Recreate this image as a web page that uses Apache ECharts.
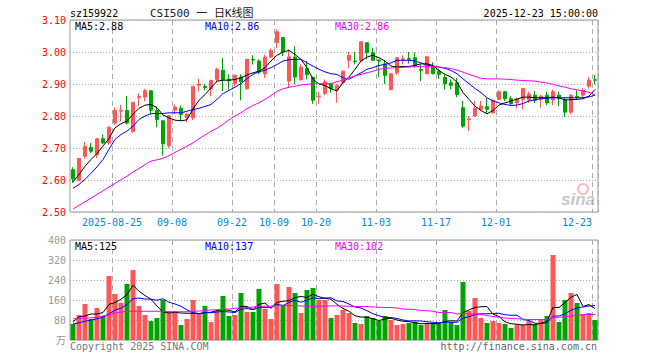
<!DOCTYPE html>
<html><head><meta charset="utf-8">
<script src="https://cdn.jsdelivr.net/npm/echarts@6/dist/echarts.min.js"></script>
<style>html,body{margin:0;padding:0;background:#fff}#c{width:660px;height:360px}</style>
</head><body><div id="c"></div>
<script>
// ---------- data ----------
const symbol = 'sz159922';
const chartTitle = 'CSI500 一 日K线图';
const dates = ['2025-08-14','2025-08-15','2025-08-18','2025-08-19','2025-08-20','2025-08-21','2025-08-22',
'2025-08-25','2025-08-26','2025-08-27','2025-08-28','2025-08-29','2025-09-01','2025-09-02','2025-09-03','2025-09-04','2025-09-05',
'2025-09-08','2025-09-09','2025-09-10','2025-09-11','2025-09-12','2025-09-15','2025-09-16','2025-09-17','2025-09-18','2025-09-19',
'2025-09-22','2025-09-23','2025-09-24','2025-09-25','2025-09-26','2025-09-29','2025-09-30','2025-10-09','2025-10-10',
'2025-10-13','2025-10-14','2025-10-15','2025-10-16','2025-10-17','2025-10-20','2025-10-21','2025-10-22','2025-10-23','2025-10-24',
'2025-10-27','2025-10-28','2025-10-29','2025-10-30','2025-10-31','2025-11-03','2025-11-04','2025-11-05','2025-11-06','2025-11-07',
'2025-11-10','2025-11-11','2025-11-12','2025-11-13','2025-11-14','2025-11-17','2025-11-18','2025-11-19','2025-11-20','2025-11-21',
'2025-11-24','2025-11-25','2025-11-26','2025-11-27','2025-11-28','2025-12-01','2025-12-02','2025-12-03','2025-12-04','2025-12-05',
'2025-12-08','2025-12-09','2025-12-10','2025-12-11','2025-12-12','2025-12-15','2025-12-16','2025-12-17','2025-12-18','2025-12-19',
'2025-12-22','2025-12-23'];
const tickDates = ['2025-08-25','2025-09-08','2025-09-22','2025-10-09','2025-10-20','2025-11-03','2025-11-17','2025-12-01','2025-12-23'];
const lastTime = '15:00:00';

const opens = [2.632,2.599,2.674,2.702,2.679,2.729,2.716,2.778,2.815,2.817,
2.752,2.857,2.859,2.879,2.817,2.785,2.707,2.818,2.824,2.795,
2.794,2.896,2.892,2.886,2.914,2.943,2.915,2.901,2.922,2.885,
2.977,2.972,2.932,2.984,3.029,3.045,2.909,2.984,2.914,2.948,
2.921,2.860,2.870,2.901,2.883,2.904,2.974,2.972,2.972,3.029,
2.998,2.975,2.963,2.883,2.935,2.976,2.980,2.982,2.945,2.932,
2.956,2.940,2.921,2.904,2.904,2.826,2.789,2.800,2.821,2.829,
2.810,2.852,2.876,2.854,2.841,2.852,2.850,2.865,2.852,2.865,
2.850,2.865,2.852,2.812,2.862,2.865,2.893,2.913];
const closes = [2.603,2.667,2.705,2.690,2.729,2.716,2.765,2.817,2.818,2.778,
2.843,2.861,2.879,2.818,2.789,2.713,2.801,2.828,2.805,2.805,
2.893,2.900,2.889,2.911,2.946,2.914,2.910,2.927,2.907,2.977,
2.975,2.937,2.984,3.005,3.063,3.000,2.985,2.922,2.953,2.930,
2.849,2.862,2.907,2.886,2.895,2.940,2.989,2.970,3.032,2.998,
2.974,2.972,2.927,2.932,2.982,2.979,2.977,2.956,2.943,2.985,
2.932,2.930,2.901,2.896,2.867,2.768,2.791,2.824,2.831,2.821,
2.849,2.876,2.854,2.839,2.852,2.886,2.869,2.849,2.862,2.841,
2.876,2.855,2.812,2.865,2.858,2.880,2.912,2.912];
const lows = [2.591,2.596,2.666,2.684,2.669,2.712,2.710,2.773,2.783,2.773,
2.747,2.830,2.846,2.804,2.765,2.676,2.700,2.805,2.786,2.781,
2.787,2.876,2.880,2.862,2.904,2.878,2.883,2.893,2.849,2.883,
2.961,2.930,2.919,2.982,3.013,2.987,2.888,2.899,2.909,2.914,
2.838,2.838,2.865,2.873,2.841,2.899,2.949,2.961,2.968,2.977,
2.972,2.921,2.900,2.880,2.928,2.961,2.964,2.951,2.909,2.930,
2.930,2.916,2.883,2.883,2.859,2.763,2.753,2.797,2.815,2.810,
2.807,2.849,2.847,2.834,2.823,2.820,2.841,2.841,2.826,2.834,
2.834,2.831,2.797,2.805,2.852,2.859,2.886,2.899];
const highs = [2.640,2.668,2.719,2.716,2.730,2.742,2.768,2.827,2.835,2.863,
2.843,2.870,2.885,2.879,2.830,2.785,2.801,2.836,2.833,2.810,
2.893,2.916,2.900,2.914,2.951,2.982,2.930,2.930,2.930,2.977,
2.990,2.977,2.992,3.011,3.071,3.045,3.008,3.018,2.961,2.972,
2.921,2.876,2.914,2.904,2.900,2.942,3.000,3.000,3.032,3.030,
3.013,2.977,2.974,2.935,2.982,2.990,3.000,2.998,2.961,2.987,
2.968,2.948,2.930,2.914,2.919,2.847,2.800,2.847,2.847,2.857,
2.852,2.880,2.876,2.862,2.857,2.886,2.876,2.878,2.867,2.876,
2.883,2.876,2.857,2.869,2.880,2.888,2.922,2.928];

const ma5 = [2.594,2.617,2.643,2.664,2.683,2.706,2.730,2.763,2.776,2.784,
2.805,2.824,2.834,2.836,2.826,2.803,2.794,2.787,2.785,2.788,
2.822,2.849,2.867,2.888,2.909,2.912,2.912,2.914,2.919,2.928,
2.935,2.940,2.951,2.972,2.990,3.000,3.005,2.992,2.977,2.951,
2.915,2.900,2.895,2.885,2.878,2.905,2.922,2.946,2.972,2.984,
2.990,2.982,2.972,2.956,2.953,2.955,2.955,2.958,2.963,2.963,
2.958,2.942,2.930,2.922,2.906,2.873,2.852,2.831,2.817,2.807,
2.817,2.834,2.841,2.847,2.853,2.859,2.859,2.857,2.857,2.857,
2.859,2.857,2.850,2.851,2.852,2.854,2.862,2.883];
const ma10 = [2.574,2.586,2.602,2.621,2.641,2.664,2.696,2.727,2.742,2.753,
2.768,2.789,2.800,2.807,2.808,2.808,2.810,2.810,2.810,2.815,
2.820,2.824,2.830,2.836,2.852,2.870,2.880,2.890,2.901,2.917,
2.930,2.938,2.943,2.951,2.961,2.972,2.976,2.977,2.977,2.966,
2.956,2.946,2.938,2.932,2.930,2.919,2.915,2.925,2.935,2.946,
2.951,2.958,2.961,2.966,2.974,2.974,2.974,2.972,2.966,2.959,
2.956,2.953,2.949,2.942,2.932,2.916,2.901,2.886,2.873,2.857,
2.847,2.841,2.836,2.833,2.834,2.839,2.847,2.850,2.854,2.856,
2.857,2.857,2.857,2.857,2.857,2.857,2.860,2.865];
const ma30 = [2.509,2.521,2.532,2.543,2.555,2.566,2.578,2.589,2.601,2.612,
2.625,2.636,2.648,2.659,2.663,2.668,2.676,2.686,2.696,2.706,
2.716,2.729,2.741,2.752,2.762,2.774,2.788,2.800,2.810,2.823,
2.833,2.841,2.852,2.864,2.877,2.885,2.890,2.893,2.897,2.899,
2.901,2.901,2.901,2.901,2.907,2.913,2.920,2.925,2.930,2.935,
2.940,2.946,2.949,2.950,2.951,2.952,2.953,2.954,2.955,2.956,
2.955,2.953,2.951,2.948,2.943,2.937,2.930,2.924,2.918,2.916,
2.916,2.916,2.915,2.914,2.912,2.911,2.910,2.909,2.906,2.903,
2.899,2.894,2.890,2.885,2.882,2.878,2.874,2.867];

const volumes = [64,100,144,84,128,96,256,184,149,224,
280,136,100,76,88,160,115,115,60,84,
160,104,136,72,116,176,96,100,188,112,
112,204,124,84,224,140,212,188,108,200,
208,160,160,88,100,120,108,68,64,96,
88,76,96,80,60,64,68,73,60,64,
64,64,120,72,60,232,116,168,88,68,
76,68,64,48,60,60,76,60,80,96,
340,72,160,188,148,104,108,80];
const volMa5 = [73,93,96,104,104,110,142,150,163,182,
219,195,178,163,136,112,108,111,108,107,
107,105,109,111,118,121,119,112,135,134,
122,143,148,127,150,155,157,170,174,170,
183,173,167,163,143,126,115,97,92,91,
85,78,84,87,80,75,74,69,65,66,
66,65,74,77,76,110,120,130,133,134,
103,94,73,65,63,60,62,61,67,74,
130,130,150,171,182,134,142,125.6];
const volMa10 = [64,69,75,80,85,91,104,120,127,143,
165,168,164,163,159,165,151,144,135,121,
109,106,110,109,112,114,112,110,123,126,
121,131,130,131,142,138,150,159,151,160,
169,165,168,169,156,154,144,132,128,117,
105,97,90,90,86,80,76,77,76,73,
71,69,72,71,71,88,93,102,105,105,
106,107,101,99,99,82,78,67,66,69,
95,96,105,119,128,132,136,137.6];
const volMa30 = [85,85,87,89,91,96,101,107,112,115,
115,115,115,115,115,115,113,113,113,113,
115,116,117,120,121,123,124,127,128,130,
132,135,135,135,138,139,138,138,136,136,
133,134,136,136,137,136,135,134,134,134,
132,131,130,130,128,124,123,122,118,117,
115,110,110,110,104,107,104,104,103,98,
94,91,88,86,85,83,82,82,82,82,
91,91,93,96,99,101,102,102.1];

const priceAxis = {min: 2.5, max: 3.1, step: 0.1};
const volAxis = {min: 0, max: 400, step: 80, unit: '万'};

// ---------- chart ----------
const MONO = "'DejaVu Sans Mono', 'Liberation Mono', 'Noto Sans CJK SC', monospace";
const RED = '#ff5757', GREEN = '#00a300';
const tickIdx = new Set(tickDates.map(d => dates.indexOf(d)));
const lastIdx = dates.length - 1;
const f2 = v => (Math.floor(v * 100 + 1e-6) / 100).toFixed(2);
const f0 = v => String(Math.floor(v + 1e-6));
const last = a => a[a.length - 1];

const chart = echarts.init(document.getElementById('c'), null, {renderer: 'svg', width: 660, height: 360});

const vSplit = {show: true, interval: (i) => tickIdx.has(i), lineStyle: {color: '#aaa', type: [5, 4], width: 1}};
const hSplit = {show: true, lineStyle: {color: '#aaa', type: [1, 2], width: 1}};

function txt(x, y, text, color, align) {
  return {type: 'text', x: x, y: y, z: 100, style: {text: text, fill: color, font: '10px ' + MONO,
    textAlign: align || 'left', textVerticalAlign: 'middle'}};
}

const option = {
  animation: false,
  backgroundColor: '#fff',
  grid: [
    {left: 70, top: 20, width: 528, height: 192, show: true, borderColor: '#999', borderWidth: 1, backgroundColor: 'transparent'},
    {left: 70, top: 240, width: 528, height: 100, show: true, borderColor: '#999', borderWidth: 1, backgroundColor: 'transparent'}
  ],
  xAxis: [
    {type: 'category', gridIndex: 0, data: dates, boundaryGap: true,
     axisLine: {show: false}, axisTick: {show: false},
     axisLabel: {show: true, interval: (i) => tickIdx.has(i), margin: 5, color: '#0a84d6',
       fontFamily: MONO, fontSize: 10,
       formatter: (v) => {
         const t = v === tickDates[0] ? v : v.slice(5);
         return dates.indexOf(v) === lastIdx ? '{e|' + t + '}' : '{n|' + t + '}';
       },
       rich: {n: {padding: [0, 6, 0, 0], color: '#0a84d6', fontFamily: MONO, fontSize: 10},
              e: {padding: [0, 36, 0, 0], color: '#0a84d6', fontFamily: MONO, fontSize: 10}}},
     splitLine: vSplit},
    {type: 'category', gridIndex: 1, data: dates, boundaryGap: true,
     axisLine: {show: false}, axisTick: {show: false}, axisLabel: {show: false},
     splitLine: vSplit}
  ],
  yAxis: [
    {type: 'value', gridIndex: 0, min: priceAxis.min, max: priceAxis.max, interval: priceAxis.step,
     axisLine: {show: false}, axisTick: {show: false},
     axisLabel: {color: '#ff0000', fontFamily: MONO, fontSize: 10, margin: 4, formatter: v => v.toFixed(2)},
     splitLine: hSplit},
    {type: 'value', gridIndex: 1, min: volAxis.min, max: volAxis.max, interval: volAxis.step,
     axisLine: {show: false}, axisTick: {show: false},
     axisLabel: {color: '#999', fontFamily: MONO, fontSize: 10, margin: 4,
       formatter: v => v === 0 ? volAxis.unit : String(v)},
     splitLine: hSplit}
  ],
  series: [
    {type: 'candlestick', xAxisIndex: 0, yAxisIndex: 0, barWidth: 4,
     data: dates.map((d, i) => [opens[i], closes[i], lows[i], highs[i]]),
     itemStyle: {color: RED, color0: GREEN, borderColor: RED, borderColor0: GREEN, borderWidth: 1}},
    {type: 'line', xAxisIndex: 0, yAxisIndex: 0, data: ma5, showSymbol: false, silent: true,
     lineStyle: {color: '#000', width: 1}, z: 3},
    {type: 'line', xAxisIndex: 0, yAxisIndex: 0, data: ma10, showSymbol: false, silent: true,
     lineStyle: {color: '#0000ff', width: 1}, z: 3},
    {type: 'line', xAxisIndex: 0, yAxisIndex: 0, data: ma30, showSymbol: false, silent: true,
     lineStyle: {color: '#ff00ff', width: 1}, z: 3},
    {type: 'bar', xAxisIndex: 1, yAxisIndex: 1, barWidth: 5, data: volumes,
     itemStyle: {color: p => closes[p.dataIndex] >= opens[p.dataIndex] ? RED : GREEN}},
    {type: 'line', xAxisIndex: 1, yAxisIndex: 1, data: volMa5, showSymbol: false, silent: true,
     lineStyle: {color: '#000', width: 1}, z: 3},
    {type: 'line', xAxisIndex: 1, yAxisIndex: 1, data: volMa10, showSymbol: false, silent: true,
     lineStyle: {color: '#0000ff', width: 1}, z: 3},
    {type: 'line', xAxisIndex: 1, yAxisIndex: 1, data: volMa30, showSymbol: false, silent: true,
     lineStyle: {color: '#ff00ff', width: 1}, z: 3}
  ],
  graphic: [
    txt(70, 13, symbol, '#000'),
    {type: 'text', x: 150, y: 13, z: 100, style: {text: chartTitle, fill: '#222',
      font: '11px ' + MONO, textAlign: 'left', textVerticalAlign: 'middle'}},
    txt(598, 13, last(dates) + ' ' + lastTime, '#000', 'right'),
    txt(75, 26, 'MA5:' + f2(last(ma5)), '#000'),
    txt(205, 26, 'MA10:' + f2(last(ma10)), '#0000ff'),
    txt(335, 26, 'MA30:' + f2(last(ma30)), '#ff00ff'),
    txt(75, 246, 'MA5:' + f0(last(volMa5)), '#000'),
    txt(205, 246, 'MA10:' + f0(last(volMa10)), '#0000ff'),
    txt(335, 246, 'MA30:' + f0(last(volMa30)), '#ff00ff'),
    txt(70, 346, 'Copyright 2025 SINA.COM', '#777'),
    txt(597, 346, 'http://finance.sina.com.cn', '#666', 'right'),
    {type: 'circle', shape: {cx: 583, cy: 189, r: 5}, z: 1,
     style: {fill: 'none', stroke: 'rgba(240,110,110,0.45)', lineWidth: 2}},
    {type: 'text', x: 595, y: 199, z: 1, style: {text: 'sina', fill: 'rgba(150,150,150,0.55)',
      font: 'italic bold 17px Arial, sans-serif', textAlign: 'right', textVerticalAlign: 'middle'}}
  ]
};
chart.setOption(option);
</script>
</body></html>
